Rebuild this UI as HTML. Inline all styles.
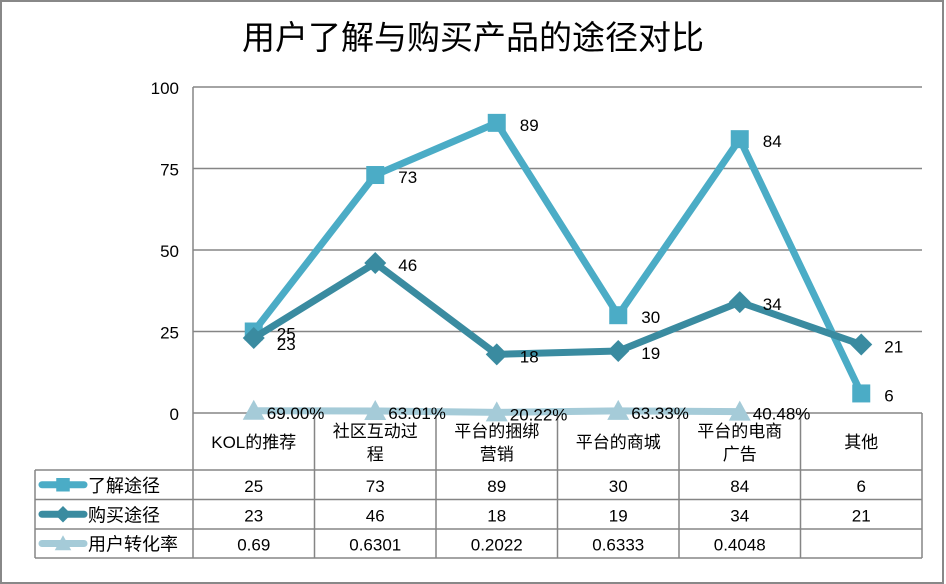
<!DOCTYPE html>
<html><head><meta charset="utf-8"><style>
html,body{margin:0;padding:0;background:#fff;}
svg{display:block;font-family:"Liberation Sans","Noto Sans CJK SC",sans-serif;}
</style></head><body>
<svg id="chart" width="946" height="584" viewBox="0 0 946 584">
<rect x="1" y="1" width="942" height="582" fill="#fff" stroke="#888" stroke-width="2"/>
<text x="473" y="49" text-anchor="middle" font-size="33" fill="#000" font-family="'Noto Sans CJK SC',sans-serif">用户了解与购买产品的途径对比</text>
<g id="grid"></g><g id="table"></g><g id="series"></g>
</svg>
<script>
const categories=[["KOL的推荐"],["社区互动过","程"],["平台的捆绑","营销"],["平台的商城"],["平台的电商","广告"],["其他"]];
const seriesNames=["了解途径","购买途径","用户转化率"];
const learnValues=[25,73,89,30,84,6];
const buyValues=[23,46,18,19,34,21];
const convValues=[0.69,0.6301,0.2022,0.6333,0.4048,null];
const convLabels=["69.00%","63.01%","20.22%","63.33%","40.48%",""];
const yTicks=[0,25,50,75,100];
const colors=["#4bacc6","#3a8ba0","#a5cbd8"];
const NS="http://www.w3.org/2000/svg";
const L=193,R=922,T=87,B=413,cw=(R-L)/categories.length;
const x=i=>L+cw*(i+0.5);
const y=v=>B-(v/100)*(B-T);
function mk(tag,attrs,parent,txt){const e=document.createElementNS(NS,tag);for(const k in attrs)e.setAttribute(k,attrs[k]);if(txt!==undefined)e.textContent=txt;parent.appendChild(e);return e;}
const grid=document.getElementById('grid'),tab=document.getElementById('table'),ser=document.getElementById('series');
yTicks.forEach(t=>{
 if(t>0){const g=mk('line',{x1:L,x2:R,y1:y(t),y2:y(t),stroke:'#858585','stroke-width':1.5},grid);
 
 }
 const tl=mk('text',{x:179,y:y(t)+7,'text-anchor':'end','font-size':17},grid,String(t));
 
 
});
const ax=mk('line',{x1:L,x2:L,y1:T,y2:B,stroke:'#858585','stroke-width':1.5},grid);


// table
const rows=[413,470,499.5,529,558];
const st={stroke:'#858585','stroke-width':1.5};
mk('line',Object.assign({x1:L,x2:R,y1:413,y2:413},st),tab);
for(let r=1;r<rows.length;r++) mk('line',Object.assign({x1:35,x2:R,y1:rows[r],y2:rows[r]},st),tab);
mk('line',Object.assign({x1:35,x2:35,y1:470,y2:558},st),tab);
for(let c=0;c<=categories.length;c++) mk('line',Object.assign({x1:L+cw*c,x2:L+cw*c,y1:413,y2:558},st),tab);
categories.forEach((lines,i)=>{
 const n=lines.length;
 lines.forEach((ln,j)=>{
  const t=mk('text',{x:x(i),y:(n===1?448:437+j*23),'text-anchor':'middle','font-size':17},tab,ln);
  
  
 });
});
const allVals=[learnValues,buyValues,convValues];
allVals.forEach((vals,s)=>{
 const cy=(rows[s+1]+rows[s+2])/2;
 const ll=mk('line',{x1:42,x2:84,y1:cy,y2:cy,stroke:colors[s],'stroke-width':7,'stroke-linecap':'round'},tab);
 
 
 drawMarker(s,63,cy,tab,0.75);
 const lt=mk('text',{x:88,y:cy+7,'font-size':18},tab,seriesNames[s]);
 
 
 vals.forEach((v,i)=>{
  if(v===null)return;
  const t=mk('text',{x:x(i),y:cy+7,'text-anchor':'middle','font-size':17},tab,String(v));
  
  
 });
});
function drawMarker(s,cx,cy,parent,k){
 k=k||1;let e;
 if(s===0)e=mk('rect',{x:cx-9*k,y:cy-9*k,width:18*k,height:18*k,fill:colors[0]},parent);
 else if(s===1)e=mk('polygon',{points:`${cx},${cy-11*k} ${cx+11*k},${cy} ${cx},${cy+11*k} ${cx-11*k},${cy}`,fill:colors[1]},parent);
 else e=mk('polygon',{points:`${cx},${cy-11*k} ${cx+11*k},${cy+9*k} ${cx-11*k},${cy+9*k}`,fill:colors[2]},parent);
 
 
}
// series draw order: conversion, learn, buy
[2,0,1].forEach(s=>{
 const vals=allVals[s];
 const pts=[];vals.forEach((v,i)=>{if(v!==null)pts.push([x(i),y(v),i,v]);});
 const pl=mk('polyline',{points:pts.map(p=>p[0]+','+p[1]).join(' '),fill:'none',stroke:colors[s],'stroke-width':7,'stroke-linejoin':'round'},ser);
 
 
 pts.forEach(p=>{
  drawMarker(s,p[0],p[1],ser,1);
  const lab=s===2?convLabels[p[2]]:String(p[3]);
  const t=mk('text',{x:p[0]+(s===2?13:23),y:p[1]+(s===2?8:(s===1&&p[2]===0?12:8)),'font-size':17},ser,lab);
  
  
 });
});
</script>
</body></html>
